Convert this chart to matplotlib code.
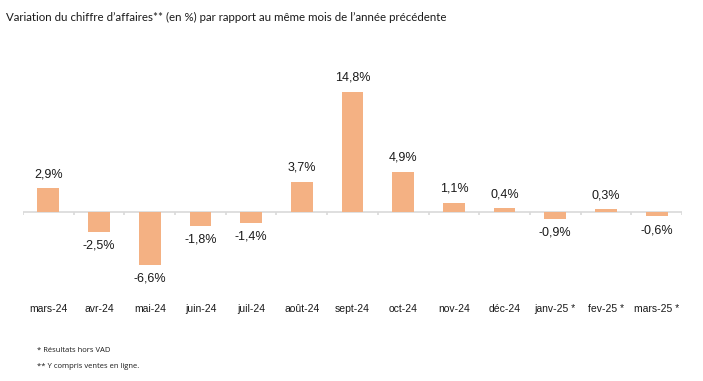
import matplotlib
matplotlib.use("Agg")
import matplotlib.pyplot as plt

months = ["mars-24", "avr-24", "mai-24", "juin-24", "juil-24", "août-24", "sept-24",
          "oct-24", "nov-24", "déc-24", "janv-25 *", "fev-25 *", "mars-25 *"]
values = [2.9, -2.5, -6.6, -1.8, -1.4, 3.7, 14.8, 4.9, 1.1, 0.4, -0.9, 0.3, -0.6]
title = "Variation du chiffre d\u2019affaires** (en %) par rapport au même mois de l\u2019année précédente"
notes = ["* Résultats hors VAD", "** Y compris ventes en ligne."]

bar_color = "#F4B183"
axis_color = "#D9D9D9"

fig = plt.figure(figsize=(7.03, 3.81), dpi=100)
ax = fig.add_axes([23 / 703, 1 - 290 / 381, 659 / 703, 250 / 381])

x = range(len(months))
ax.bar(x, values, width=0.43, color=bar_color, zorder=2)
ax.axhline(0, color=axis_color, lw=1.2, zorder=1)
# small tick marks between categories on the zero line
ax.vlines([i - 0.5 for i in range(len(months) + 1)], -0.45, 0, color=axis_color, lw=1.2)

for i, v in enumerate(values):
    off = 10 if v >= 0 else -10
    ax.annotate(f"{v:.1f}%".replace(".", ","), (i, v), xytext=(0, off),
                textcoords="offset points", ha="center", va="center",
                fontsize=9, family="Liberation Sans", color="#1a1a1a")

ax.set_xlim(-0.5, len(months) - 0.5)
ax.set_ylim(-9.69, 21.17)
ax.set_xticks(list(x))
ax.set_xticklabels(months, fontsize=7.5, family="Liberation Sans", color="#1a1a1a")
ax.tick_params(axis="x", length=0, pad=10)
ax.set_yticks([])
for s in ax.spines.values():
    s.set_visible(False)

fig.text(6 / 703, 1 - 17 / 381, title, fontsize=8.3, family="Lato",
         va="center", ha="left", color="#1a1a1a")
fig.text(37 / 703, 1 - 350 / 381, notes[0], fontsize=5.5, family="Open Sans",
         va="center", ha="left", color="#1a1a1a")
fig.text(37 / 703, 1 - 366 / 381, notes[1], fontsize=5.5, family="Open Sans",
         va="center", ha="left", color="#1a1a1a")

fig.savefig("out.png", dpi=100)
